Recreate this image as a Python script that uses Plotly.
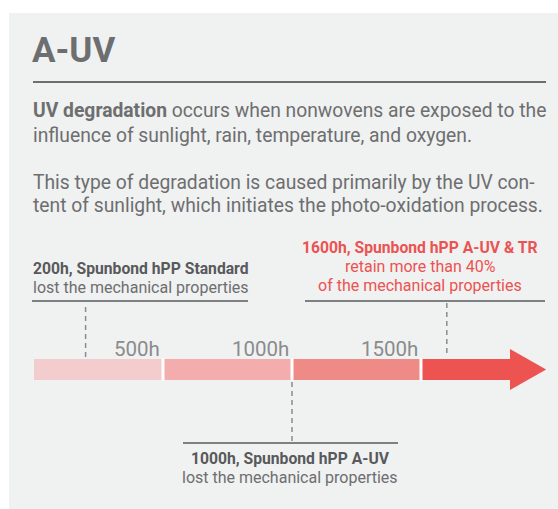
import plotly.graph_objects as go

# ---------------- data ----------------
segment_starts = [0, 500, 1000, 1500]          # hours
segment_ends = [500, 1000, 1500, 1845]         # hours (last one = arrow shaft end)
segment_colors = ["#f3cdcd", "#f2adac", "#ef8b86", "#ec5351"]
tick_hours = [500, 1000, 1500]
tick_labels = ["500h", "1000h", "1500h"]
arrow_tip_h = 1985

marker_hours = [200, 1000, 1600]
marker_titles = ["200h, Spunbond hPP Standard",
                 "1000h, Spunbond hPP A-UV",
                 "1600h, Spunbond hPP A-UV & TR"]
marker_notes = [["lost the mechanical properties"],
                ["lost the mechanical properties"],
                ["retain more than 40%", "of the mechanical properties"]]

title_text = "A-UV"
para1 = ["<b>UV degradation</b> occurs when nonwovens are exposed to the",
         "influence of sunlight, rain, temperature, and oxygen."]
para2 = ["This type of degradation is caused primarily by the UV con-",
         "tent of sunlight, which initiates the photo-oxidation process."]

# ---------------- layout helpers ----------------
W, H = 558, 509
X0_PX = 34.0
PX_PER_H = 129.0 / 500.0
FONT = "Roboto"
GREY = "#6d6e70"
DARK = "#58595b"
RED = "#eb5352"


def px(x):
    return x / W


def py(y):
    return 1 - y / H


fig = go.Figure()

bar_y = 369.5
bar_w = 21

# timeline segments
for s, e, c in zip(segment_starts, segment_ends, segment_colors):
    fig.add_trace(go.Bar(
        orientation="h", y=[bar_y], x=[e - s], base=[s], width=bar_w,
        marker=dict(color=c, line=dict(width=0)), hoverinfo="skip", showlegend=False))

# arrow head
fig.add_trace(go.Scatter(
    x=[segment_ends[-1], arrow_tip_h, segment_ends[-1], segment_ends[-1]],
    y=[bar_y - 20.5, bar_y, bar_y + 20.5, bar_y - 20.5],
    mode="lines", fill="toself", fillcolor=segment_colors[-1],
    line=dict(width=0, color=segment_colors[-1]), hoverinfo="skip", showlegend=False))

shapes = []
# panel
shapes.append(dict(type="rect", xref="paper", yref="paper", x0=px(9), x1=px(W + 2),
                   y0=py(509), y1=py(13), fillcolor="#f0f1f1", line=dict(width=0), layer="below"))
# title rule
shapes.append(dict(type="line", xref="paper", yref="paper", x0=px(33), x1=px(546),
                   y0=py(82), y1=py(82), line=dict(color=GREY, width=2)))
# white separators between segments
for h in segment_starts[1:]:
    shapes.append(dict(type="line", xref="x", yref="y", x0=h, x1=h,
                       y0=bar_y - bar_w / 2 - 0.5, y1=bar_y + bar_w / 2 + 0.5,
                       line=dict(color="#ffffff", width=3)))

# dashed marker lines + underlines
dash_spans = [(307, 357), (382, 442), (303, 356)]
underline = [(301, 32, 248), (443, 183, 398), (301, 305, 545)]
for h, (ya, yb), (uy, ux0, ux1) in zip(marker_hours, dash_spans, underline):
    shapes.append(dict(type="line", xref="x", yref="y", x0=h, x1=h, y0=ya, y1=yb,
                       line=dict(color="#8a8b8d", width=1.5, dash="5px,4px")))
    shapes.append(dict(type="line", xref="paper", yref="paper", x0=px(ux0), x1=px(ux1),
                       y0=py(uy), y1=py(uy), line=dict(color="#7f8082", width=2)))

annotations = []
# title
annotations.append(dict(text="<b>%s</b>" % title_text, xref="paper", yref="paper",
                        x=px(30), y=py(50), xanchor="left", yanchor="middle", showarrow=False,
                        font=dict(family=FONT, size=35, color=GREY)))
# paragraphs
for txt, y in zip(para1 + para2, [110, 135, 182, 206]):
    annotations.append(dict(text=txt, xref="paper", yref="paper", x=px(31), y=py(y),
                            xanchor="left", yanchor="middle", showarrow=False,
                            font=dict(family=FONT, size=19.3, color=GREY)))
# tick labels
for h, t in zip(tick_hours, tick_labels):
    annotations.append(dict(text=t, xref="x", yref="y", x=h, y=349, xanchor="right",
                            yanchor="middle", xshift=-1, showarrow=False,
                            font=dict(family=FONT, size=20.5, color="#8a8b8d")))

# marker labels
label_pos = [  # (x px, anchor, title y, note ys)
    (31, "left", 268, [287]),
    (290.5, "center", 458, [477]),
    (420, "center", 247, [266, 285]),
]
for (lx, anc, ty, nys), t, notes, is_red in zip(label_pos, marker_titles, marker_notes,
                                                 [False, False, True]):
    col_b = RED if is_red else DARK
    col_n = RED if is_red else GREY
    annotations.append(dict(text="<b>%s</b>" % t, xref="paper", yref="paper", x=px(lx), y=py(ty),
                            xanchor=anc, yanchor="middle", showarrow=False,
                            font=dict(family=FONT, size=15.7, color=col_b)))
    for n, ny in zip(notes, nys):
        annotations.append(dict(text=n, xref="paper", yref="paper", x=px(lx), y=py(ny),
                                xanchor=anc, yanchor="middle", showarrow=False,
                                font=dict(family=FONT, size=16, color=col_n)))

fig.update_layout(
    width=W, height=H, margin=dict(l=0, r=0, t=0, b=0),
    paper_bgcolor="#ffffff", plot_bgcolor="rgba(0,0,0,0)",
    barmode="overlay", bargap=0,
    xaxis=dict(range=[-X0_PX / PX_PER_H, (W - X0_PX) / PX_PER_H], visible=False, fixedrange=True),
    yaxis=dict(range=[H, 0], visible=False, fixedrange=True),
    shapes=shapes, annotations=annotations, showlegend=False,
)

fig.write_html("out.html", config={"displayModeBar": False},
               post_script="document.body.style.margin='0';document.body.style.overflow='hidden';")
